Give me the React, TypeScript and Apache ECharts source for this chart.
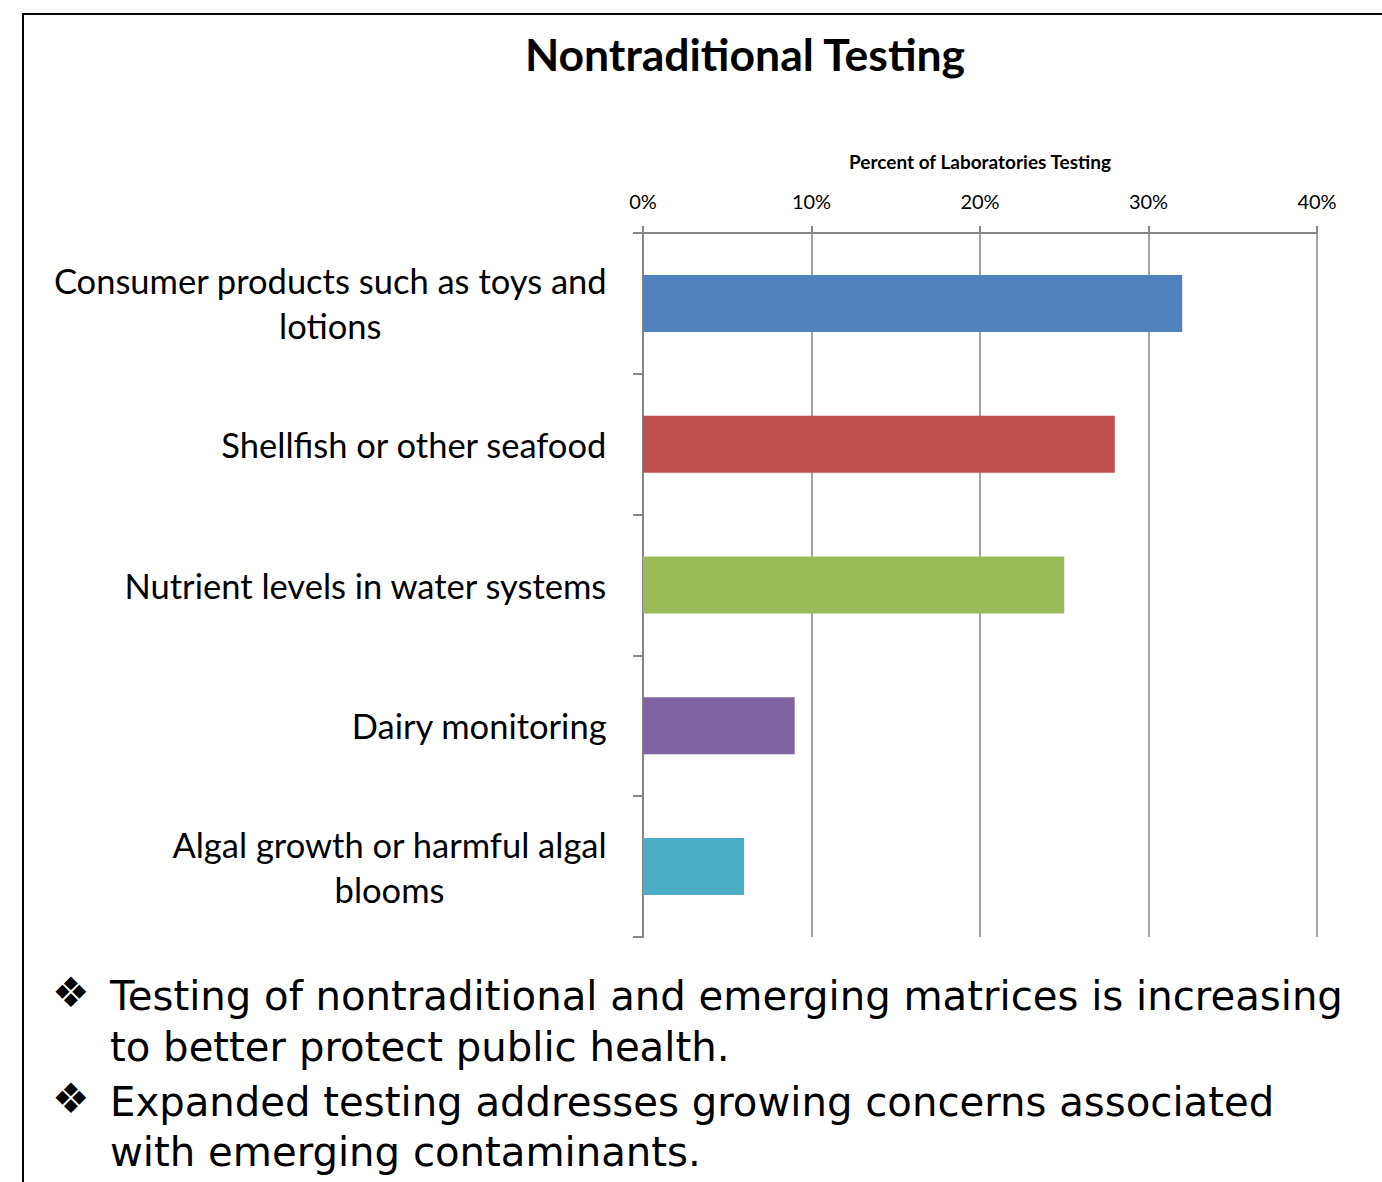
import React, { useEffect, useRef } from "react";
import * as echarts from "echarts";

const categories = [
  "Consumer products such as toys and\nlotions",
  "Shellfish or other seafood",
  "Nutrient levels in water systems",
  "Dairy monitoring",
  "Algal growth or harmful algal\nblooms",
];
const values = [32, 28, 25, 9, 6];
const barColors = ["#4F81BD", "#C0504D", "#9BBB59", "#8064A2", "#4BACC6"];
const axisTitle = "Percent of Laboratories Testing";
const chartTitle = "Nontraditional Testing";
const bullets = [
  ["Testing of nontraditional and emerging matrices is increasing", "to better protect public health."],
  ["Expanded testing addresses growing concerns associated", "with emerging contaminants."],
];

export default function App() {
  const ref = useRef<HTMLDivElement>(null);
  useEffect(() => {
    document.body.style.margin = "0";
    const chart = echarts.init(ref.current!, null, { renderer: "svg" });
    const bulletFont = "DejaVu Sans";
    const graphics: any[] = [
      {
        type: "rect",
        shape: { x: 23, y: 14, width: 1400, height: 1200 },
        style: { fill: "none", stroke: "#000", lineWidth: 2 },
        silent: true,
      },
    ];
    const lineTops = [971, 1022, 1077, 1127];
    let li = 0;
    bullets.forEach((b) => {
      graphics.push({
        type: "text",
        x: 52,
        y: lineTops[li] - 1,
        style: { text: "❖", font: "42px 'DejaVu Sans'", fill: "#000", lineHeight: 44 },
      });
      b.forEach((line) => {
        graphics.push({
          type: "text",
          x: 110,
          y: lineTops[li],
          style: { text: line, font: `40.2px '${bulletFont}'`, lineHeight: 49, fill: "#000" },
        });
        li++;
      });
    });
    chart.setOption({
      animation: false,
      title: {
        text: chartTitle,
        left: 740,
        top: 26,
        textAlign: "center",
        textStyle: { fontFamily: "Lato", fontWeight: "bold", fontSize: 44.5, color: "#000" },
      },
      grid: { left: 643, right: 65, top: 233, bottom: 245 },
      xAxis: {
        type: "value",
        position: "top",
        min: 0,
        max: 40,
        interval: 10,
        name: axisTitle,
        nameLocation: "middle",
        nameGap: 62,
        nameTextStyle: {
          fontFamily: "Lato",
          fontWeight: "bold",
          fontSize: 19,
          color: "#000",
        },
        axisLine: { show: true, lineStyle: { color: "#868686", width: 2 } },
        axisTick: { show: true, length: 7, lineStyle: { color: "#868686", width: 2 } },
        splitLine: { show: true, lineStyle: { color: "#868686", width: 1.5 } },
        axisLabel: {
          formatter: "{value}%",
          margin: 22,
          fontFamily: "Lato",
          fontSize: 20,
          color: "#000",
        },
      },
      yAxis: {
        type: "category",
        inverse: true,
        data: categories,
        axisLine: { show: true, lineStyle: { color: "#868686", width: 2 } },
        axisTick: { show: true, length: 10, lineStyle: { color: "#868686", width: 2 } },
        axisLabel: {
          margin: 36,
          color: "#000",
          fontFamily: "Lato",
          fontSize: 34.5,
          lineHeight: 45,
          formatter: (v: string) =>
            v
              .split("\n")
              .map((s) => `{c|${s}}`)
              .join("\n"),
          rich: { c: { align: "center", fontFamily: "Lato", fontSize: 34.5, lineHeight: 45, color: "#000" } },
        },
      },
      series: [
        {
          type: "bar",
          data: values.map((v, i) => ({ value: v, itemStyle: { color: barColors[i] } })),
          barWidth: 57,
        },
      ],
      graphic: graphics,
    });
    return () => chart.dispose();
  }, []);
  return <div ref={ref} style={{ width: 1382, height: 1182 }} />;
}
